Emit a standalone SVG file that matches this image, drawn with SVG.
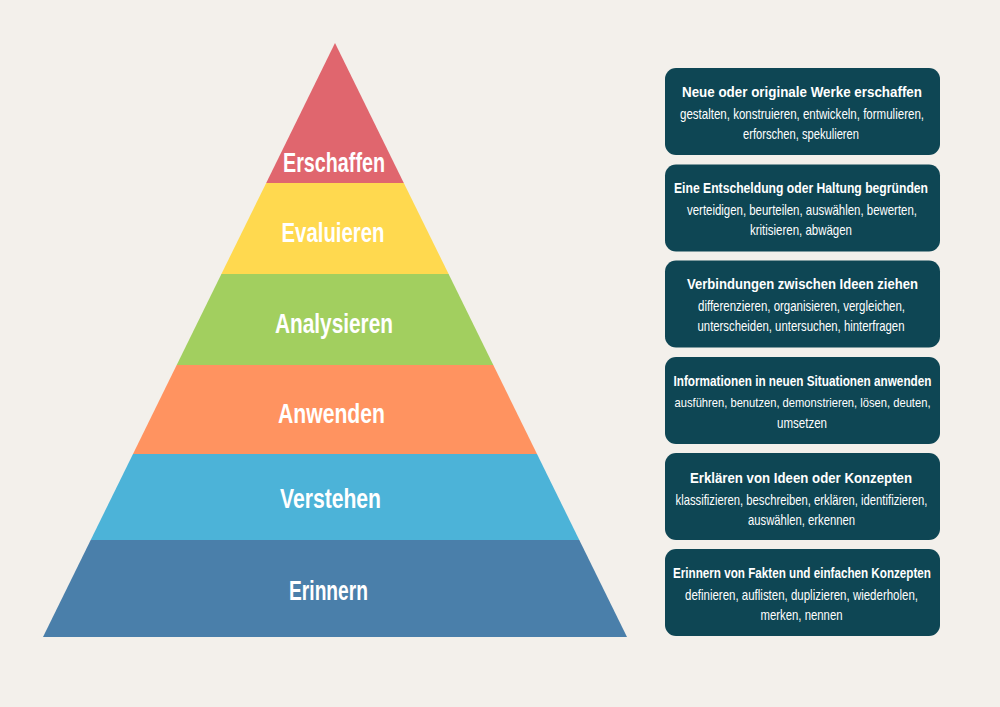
<svg xmlns="http://www.w3.org/2000/svg" width="1000" height="707" viewBox="0 0 1000 707">
<style>
.lvl{font-family:"Liberation Sans",Arial,sans-serif;font-weight:bold;font-size:28.5px;fill:#ffffff;text-anchor:middle}
.box{fill:#0E4654}
.t{font-family:"Liberation Sans",Arial,sans-serif;font-weight:bold;font-size:14.5px;fill:#ffffff;text-anchor:middle}
.b{font-family:"Liberation Sans",Arial,sans-serif;font-size:14.5px;fill:#ffffff;text-anchor:middle}
</style>
<rect x="0" y="0" width="1000" height="707" fill="#F3F0EB"/>
<g id="pyramid">
<g id="erschaffen">
<polygon points="335,43 403.8,183 266.2,183" fill="#E0666E"/>
<text class="lvl" x="334" y="172" textLength="102" lengthAdjust="spacingAndGlyphs">Erschaffen</text>
</g>
<g id="evaluieren">
<polygon points="266.2,183 403.8,183 448.6,274 221.4,274" fill="#FFD94F"/>
<text class="lvl" x="333" y="242" textLength="103" lengthAdjust="spacingAndGlyphs">Evaluieren</text>
</g>
<g id="analysieren">
<polygon points="221.4,274 448.6,274 493.3,365 176.7,365" fill="#A2CF5F"/>
<text class="lvl" x="334" y="333" textLength="118" lengthAdjust="spacingAndGlyphs">Analysieren</text>
</g>
<g id="anwenden">
<polygon points="176.7,365 493.3,365 537,454 133,454" fill="#FF9360"/>
<text class="lvl" x="331.5" y="423" textLength="107" lengthAdjust="spacingAndGlyphs">Anwenden</text>
</g>
<g id="verstehen">
<polygon points="133,454 537,454 579.3,540 90.7,540" fill="#4CB3D8"/>
<text class="lvl" x="330.5" y="508" textLength="101" lengthAdjust="spacingAndGlyphs">Verstehen</text>
</g>
<g id="erinnern">
<polygon points="90.7,540 579.3,540 627,637 43,637" fill="#4A7FAA"/>
<text class="lvl" x="328.5" y="600" textLength="79" lengthAdjust="spacingAndGlyphs">Erinnern</text>
</g>
</g>
<g id="box1">
<rect class="box" x="665" y="68" width="275" height="87" rx="11"/>
<text class="t" x="802" y="97" textLength="240" lengthAdjust="spacingAndGlyphs">Neue oder originale Werke erschaffen</text>
<text class="b" x="802" y="119" textLength="244" lengthAdjust="spacingAndGlyphs">gestalten, konstruieren, entwickeln, formulieren,</text>
<text class="b" x="801" y="139" textLength="116" lengthAdjust="spacingAndGlyphs">erforschen, spekulieren</text>
</g>
<g id="box2">
<rect class="box" x="665" y="164.5" width="275" height="87" rx="11"/>
<text class="t" x="801" y="193" textLength="254" lengthAdjust="spacingAndGlyphs">Eine Entscheldung oder Haltung begründen</text>
<text class="b" x="802" y="215" textLength="230" lengthAdjust="spacingAndGlyphs">verteidigen, beurteilen, auswählen, bewerten,</text>
<text class="b" x="801" y="235" textLength="102" lengthAdjust="spacingAndGlyphs">kritisieren, abwägen</text>
</g>
<g id="box3">
<rect class="box" x="665" y="260.5" width="275" height="87" rx="11"/>
<text class="t" x="802.5" y="289" textLength="231" lengthAdjust="spacingAndGlyphs">Verbindungen zwischen Ideen ziehen</text>
<text class="b" x="801.5" y="311" textLength="207" lengthAdjust="spacingAndGlyphs">differenzieren, organisieren, vergleichen,</text>
<text class="b" x="801" y="331" textLength="207" lengthAdjust="spacingAndGlyphs">unterscheiden, untersuchen, hinterfragen</text>
</g>
<g id="box4">
<rect class="box" x="665" y="357" width="275" height="87" rx="11"/>
<text class="t" x="802.5" y="386" textLength="258" lengthAdjust="spacingAndGlyphs">Informationen in neuen Situationen anwenden</text>
<text class="b" x="802.5" y="407" font-size="13.5" textLength="256" lengthAdjust="spacingAndGlyphs" style="font-size:13.5px">ausführen, benutzen, demonstrieren, lösen, deuten,</text>
<text class="b" x="802" y="428" textLength="50" lengthAdjust="spacingAndGlyphs">umsetzen</text>
</g>
<g id="box5">
<rect class="box" x="665" y="453" width="275" height="87" rx="11"/>
<text class="t" x="801" y="483" textLength="222" lengthAdjust="spacingAndGlyphs">Erklären von Ideen oder Konzepten</text>
<text class="b" x="801.5" y="505" textLength="252" lengthAdjust="spacingAndGlyphs">klassifizieren, beschreiben, erklären, identifizieren,</text>
<text class="b" x="801.5" y="525" textLength="107" lengthAdjust="spacingAndGlyphs">auswählen, erkennen</text>
</g>
<g id="box6">
<rect class="box" x="665" y="549" width="275" height="87" rx="11"/>
<text class="t" x="802" y="578" textLength="258" lengthAdjust="spacingAndGlyphs">Erinnern von Fakten und einfachen Konzepten</text>
<text class="b" x="801.5" y="600" textLength="233" lengthAdjust="spacingAndGlyphs">definieren, auflisten, duplizieren, wiederholen,</text>
<text class="b" x="801.5" y="620" textLength="82" lengthAdjust="spacingAndGlyphs">merken, nennen</text>
</g>
</svg>
